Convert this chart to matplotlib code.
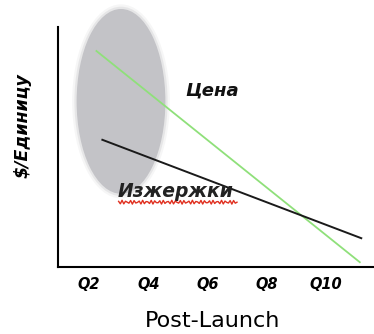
import numpy as np
import matplotlib
matplotlib.use("Agg")
import matplotlib.pyplot as plt
from matplotlib.patches import Ellipse

# quarters after launch and $ per unit (arbitrary units 0-100)
tick_quarters = [2, 4, 6, 8, 10]
tick_labels = ["Q2", "Q4", "Q6", "Q8", "Q10"]

price_q = [2.25, 11.15]
price_val = [90, 2]

cost_q = [2.45, 11.2]
cost_val = [53, 12]

# highlighted early region
zone_center = (3.08, 69)
zone_w, zone_h = 3.0, 77

fig = plt.figure(figsize=(3.74, 3.34), dpi=100)
ax = fig.add_axes([0.155, 0.2006, 0.845, 0.7186])
ax.set_xlim(0.95, 11.63)
ax.set_ylim(0, 100)

# soft-edged grey ellipse
for k, a in [(1.10, 0.15), (1.05, 0.3), (1.0, 1.0)]:
    e = Ellipse(zone_center, zone_w * k, zone_h * (1 + (k - 1) * 0.5),
                facecolor="#c3c3c7", edgecolor="none", alpha=a,
                clip_on=False, zorder=1)
    ax.add_patch(e)

ax.plot(price_q, price_val, color="#8fe07a", lw=1.3, zorder=3)
ax.plot(cost_q, cost_val, color="#1a1a1a", lw=1.4, zorder=3)

bi = dict(fontfamily="DejaVu Sans", fontweight="bold", fontstyle="italic")
ax.text(5.25, 73.5, "Цена", fontsize=13, color="#111111", va="center", **bi)
ax.text(2.95, 31.5, "Изжержки", fontsize=13.5, color="#222222", va="center",
        zorder=4, **bi)

# spell-check style wavy underline
wx = np.linspace(3.0, 7.0, 70)
wy = 27 + 0.8 * np.sin(wx * 2 * np.pi / 0.14)
ax.plot(wx, wy, color="#e03020", lw=1.0, zorder=4)

ax.set_xticks(tick_quarters)
ax.set_xticklabels(tick_labels, fontsize=10.5, **bi)
ax.set_yticks([])
ax.tick_params(axis="x", length=0, pad=7)

for s in ["top", "right"]:
    ax.spines[s].set_visible(False)
ax.spines["left"].set_linewidth(1.5)
ax.spines["bottom"].set_linewidth(1.5)

ax.set_ylabel("$/Единицу", fontsize=12.5, **bi)
ax.yaxis.set_label_coords(-0.085, 0.5875)
ax.set_xlabel("Post-Launch", fontsize=16, fontfamily="DejaVu Sans")
ax.xaxis.set_label_coords(0.49, -0.185)

fig.savefig("out.png", dpi=100)
